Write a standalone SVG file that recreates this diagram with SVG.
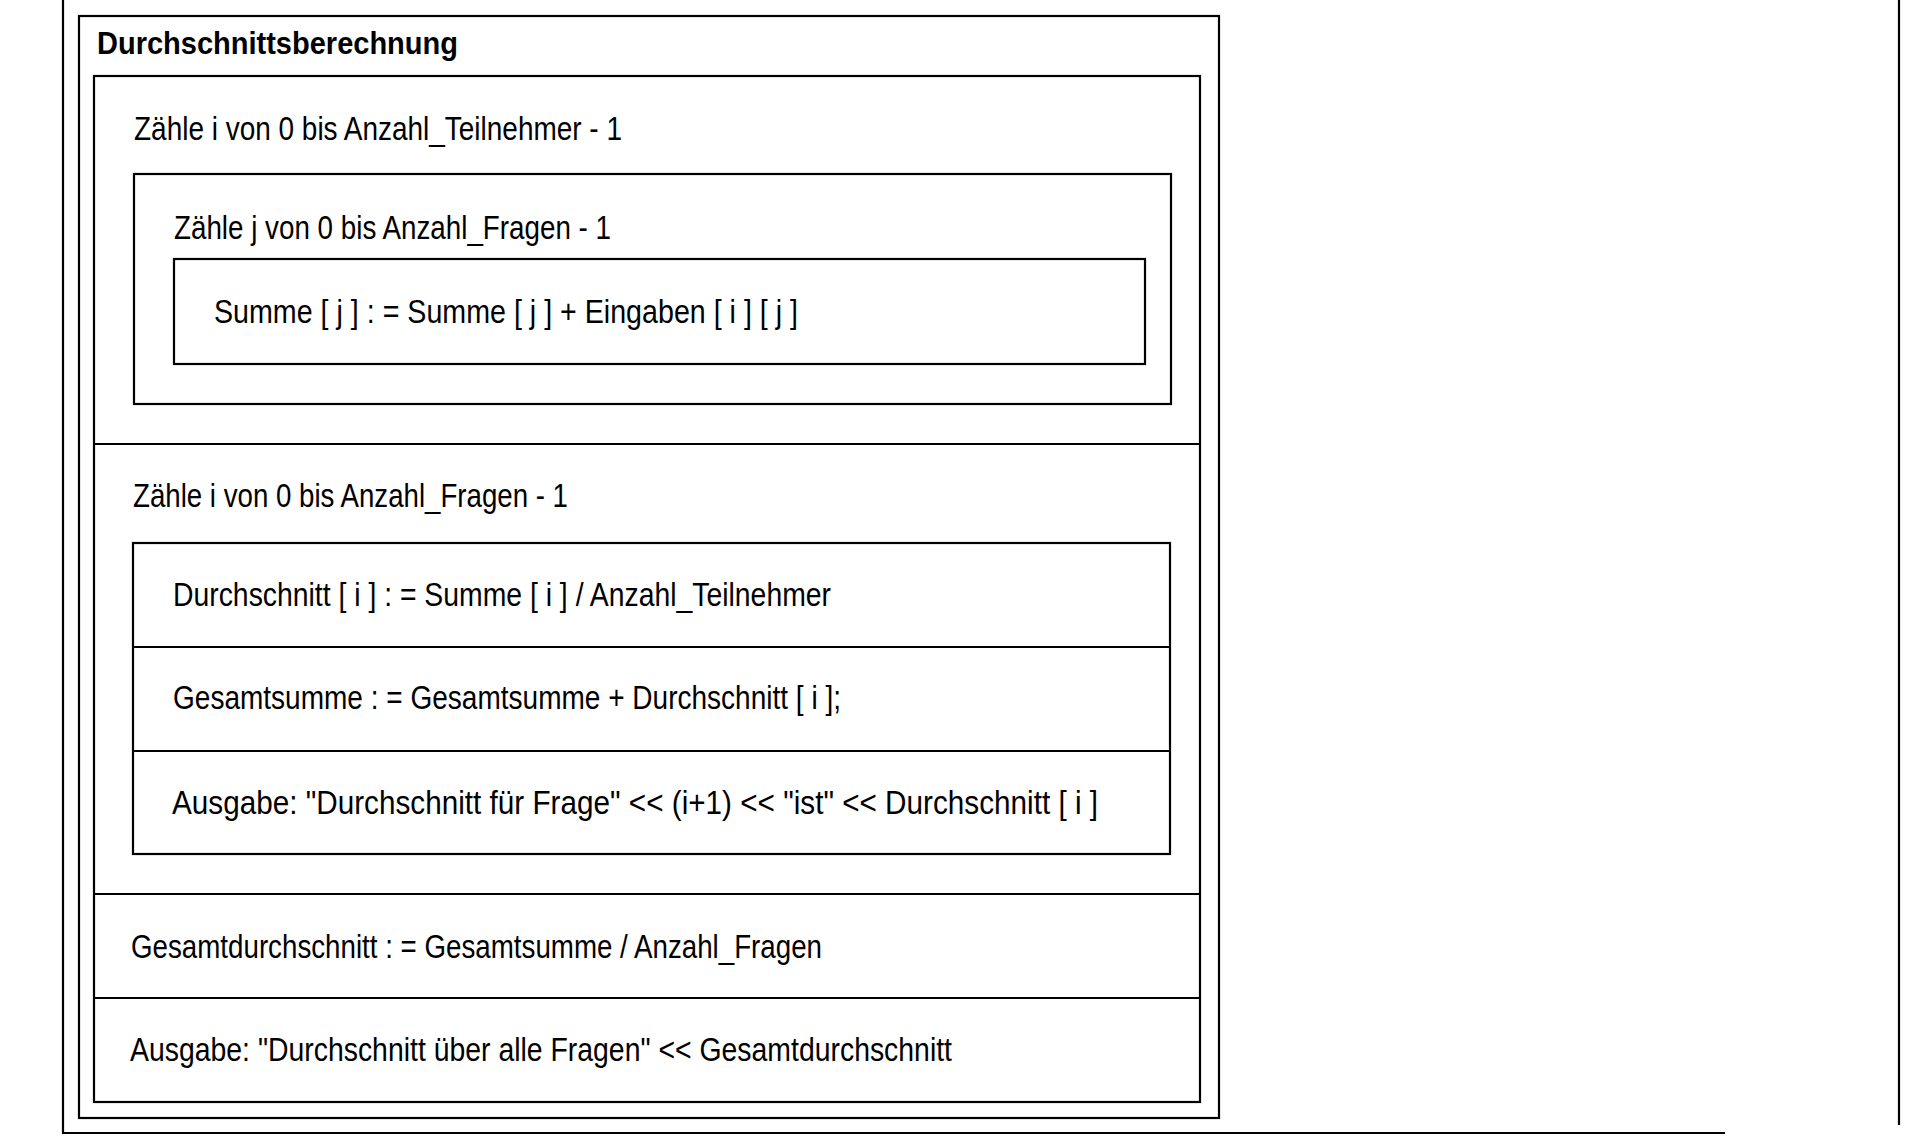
<svg xmlns="http://www.w3.org/2000/svg" width="1912" height="1136" viewBox="0 0 1912 1136">
<style>
.ln{fill:none;stroke:#000;stroke-width:2.2}
.t{font-family:"Liberation Sans Narrow","Liberation Sans",Arial,sans-serif;font-size:33px;fill:#000}
.tb{font-family:"Liberation Sans Narrow","Liberation Sans",Arial,sans-serif;font-size:31px;font-weight:bold;fill:#000}
</style>
<rect x="0" y="0" width="1912" height="1136" fill="#fff"/>
<g id="page-frame">
<path class="ln" d="M63,0 V1133 H1725"/>
<path class="ln" d="M1899,0 V1125"/>
</g>
<g id="diagram-frame">
<rect class="ln" x="79" y="16" width="1140" height="1102"/>
<text class="tb" x="97" y="54" textLength="361" lengthAdjust="spacingAndGlyphs">Durchschnittsberechnung</text>
</g>
<g id="inner-frame">
<rect class="ln" x="94" y="76" width="1106" height="1026"/>
<line class="ln" x1="94" y1="444" x2="1200" y2="444"/>
<line class="ln" x1="94" y1="894" x2="1200" y2="894"/>
<line class="ln" x1="94" y1="998" x2="1200" y2="998"/>
</g>
<g id="loop-teilnehmer">
<text class="t" x="134" y="140" textLength="488" lengthAdjust="spacingAndGlyphs">Zähle i von 0 bis Anzahl_Teilnehmer - 1</text>
</g>
<g id="loop-fragen-j">
<rect class="ln" x="134" y="174" width="1037" height="230"/>
<text class="t" x="174" y="239" textLength="437" lengthAdjust="spacingAndGlyphs">Zähle j von 0 bis Anzahl_Fragen - 1</text>
</g>
<g id="stmt-summe">
<rect class="ln" x="174" y="259" width="971" height="105"/>
<text class="t" x="214" y="323" textLength="584" lengthAdjust="spacingAndGlyphs">Summe [ j ] : = Summe [ j ] + Eingaben [ i ] [ j ]</text>
</g>
<g id="loop-fragen-i">
<text class="t" x="133" y="507" textLength="435" lengthAdjust="spacingAndGlyphs">Zähle i von 0 bis Anzahl_Fragen - 1</text>
</g>
<g id="loop-body">
<rect class="ln" x="133" y="543" width="1037" height="311"/>
<line class="ln" x1="133" y1="647" x2="1170" y2="647"/>
<line class="ln" x1="133" y1="751" x2="1170" y2="751"/>
</g>
<g id="stmt-durchschnitt">
<text class="t" x="173" y="606" textLength="658" lengthAdjust="spacingAndGlyphs">Durchschnitt [ i ] : = Summe [ i ] / Anzahl_Teilnehmer</text>
</g>
<g id="stmt-gesamtsumme">
<text class="t" x="173" y="709" textLength="668" lengthAdjust="spacingAndGlyphs">Gesamtsumme : = Gesamtsumme + Durchschnitt [ i ];</text>
</g>
<g id="stmt-ausgabe-frage">
<text class="t" x="172" y="814" textLength="926" lengthAdjust="spacingAndGlyphs">Ausgabe: "Durchschnitt für Frage" &lt;&lt; (i+1) &lt;&lt; "ist" &lt;&lt; Durchschnitt [ i ]</text>
</g>
<g id="stmt-gesamtdurchschnitt">
<text class="t" x="131" y="958" textLength="691" lengthAdjust="spacingAndGlyphs">Gesamtdurchschnitt : = Gesamtsumme / Anzahl_Fragen</text>
</g>
<g id="stmt-ausgabe-gesamt">
<text class="t" x="130" y="1061" textLength="822" lengthAdjust="spacingAndGlyphs">Ausgabe: "Durchschnitt über alle Fragen" &lt;&lt; Gesamtdurchschnitt</text>
</g>
<g id="connectors"/>
</svg>
